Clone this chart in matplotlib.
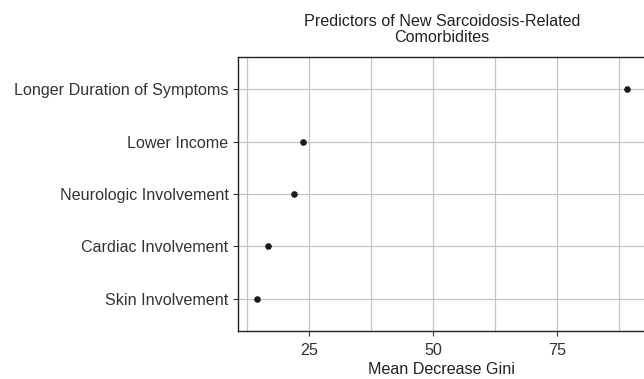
import matplotlib
matplotlib.use("Agg")
import matplotlib.pyplot as plt

categories = ["Skin Involvement", "Cardiac Involvement", "Neurologic Involvement",
              "Lower Income", "Longer Duration of Symptoms"]
values = [14.4, 16.6, 22.0, 23.7, 89.0]
xticks = [25, 50, 75]
minor_xticks = [12.5, 37.5, 62.5, 87.5]

plt.rcParams['font.family'] = ['Liberation Sans', 'DejaVu Sans']

fig = plt.figure(figsize=(6.44, 3.79), dpi=100)
ax = fig.add_axes([238/644, 1 - 331/379, (646 - 238)/644, (331 - 57)/379])

ypos = list(range(1, len(categories) + 1))
ax.set_xlim(10.63, 92.9)
ax.set_ylim(0.39, len(categories) + 0.61)
ax.set_xticks(xticks)
ax.set_xticks(minor_xticks, minor=True)
ax.set_yticks(ypos)
ax.set_yticklabels(categories)
ax.grid(True, which='both', color='#c4c4c4', linewidth=0.9)
ax.set_axisbelow(True)
ax.scatter(values, ypos, s=14, color='#1a1a1a', zorder=3)

fs = 11.6
for sp in ax.spines.values():
    sp.set_color('#222222')
    sp.set_linewidth(1.0)
ax.tick_params(axis='both', which='major', length=3.6, width=0.8, color='#333333',
               labelsize=fs, labelcolor='#333333')
ax.tick_params(axis='y', pad=3.2)
ax.tick_params(axis='x', pad=5.0)
ax.tick_params(axis='x', which='minor', length=0)
ax.set_xlabel("Mean Decrease Gini", fontsize=fs, color='#222222', labelpad=3.0)
ax.set_title("Predictors of New Sarcoidosis-Related\nComorbidites", fontsize=fs,
             color='#222222', pad=10.5, linespacing=1.12)

fig.savefig("out.png", dpi=100)
